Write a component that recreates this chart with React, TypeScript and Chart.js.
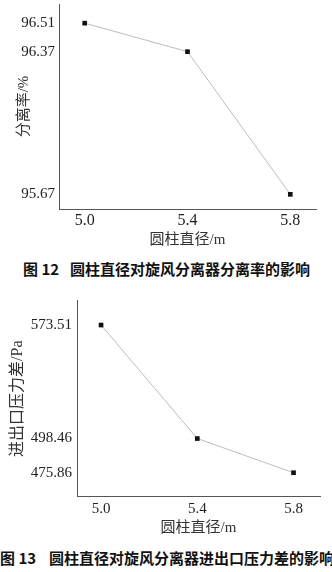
import React, { useEffect, useRef } from "react";
import { Chart, registerables } from "chart.js";

Chart.register(...registerables);

// ---- data ----
const diameters = [5.0, 5.4, 5.8];
const separationRate = [96.51, 96.37, 95.67];
const pressureDiff = [573.51, 498.46, 475.86];
const rateTicks = [96.51, 96.37, 95.67];
const pressureTicks = [573.51, 498.46, 475.86];
const xAxisTitle = "圆柱直径/m";
const rateAxisTitle = "分离率/%";
const pressureAxisTitle = "进出口压力差/Pa";
const caption1Num = "图 12";
const caption1Text = "圆柱直径对旋风分离器分离率的影响";
const caption2Num = "图 13";
const caption2Text = "圆柱直径对旋风分离器进出口压力差的影响";

const SERIF = "'Liberation Serif', 'Times New Roman', 'Noto Sans CJK SC', serif";
const CJK = "'Liberation Serif', 'Noto Sans CJK SC', serif";

type Cfg = {
  values: number[];
  yTicks: number[];
  yMin: number;
  yMax: number;
  xMin: number;
  xMax: number;
  yTitle: string;
  yWidth: number;
  xHeight: number;
  padTop: number;
  padRight: number;
  yTitlePad: number;
  yTickPad: number;
  xTickPad: number;
  xTitlePad: number;
  xTickSize: number;
  yTickSize: number;
  yTitleSize: number;
  xTitleSize: number;
};

function makeConfig(c: Cfg): any {
  return {
    type: "line",
    data: {
      datasets: [
        {
          data: diameters.map((d, i) => ({ x: d, y: c.values[i] })),
          borderColor: "#bdbdbd",
          borderWidth: 1,
          pointStyle: "rect",
          pointRadius: 3.3,
          pointBackgroundColor: "#111",
          pointBorderColor: "#111",
          pointBorderWidth: 0,
          fill: false,
          tension: 0,
          clip: false,
        },
      ],
    },
    options: {
      animation: false,
      responsive: false,
      devicePixelRatio: 1,
      layout: { padding: { top: c.padTop, right: c.padRight, left: 0, bottom: 0 } },
      plugins: { legend: { display: false }, tooltip: { enabled: false } },
      scales: {
        x: {
          type: "linear",
          min: c.xMin,
          max: c.xMax,
          afterBuildTicks: (s: any) => {
            s.ticks = diameters.map((v) => ({ value: v }));
          },
          afterFit: (s: any) => {
            s.height = c.xHeight;
            s.paddingLeft = 0;
            s.paddingRight = 0;
          },
          grid: { display: false, drawTicks: false },
          border: { display: true, color: "#555", width: 1 },
          ticks: {
            padding: c.xTickPad,
            color: "#222",
            font: { family: SERIF, size: c.xTickSize },
            maxRotation: 0,
            callback: (v: any) => Number(v).toFixed(1),
          },
          title: {
            display: true,
            text: xAxisTitle,
            color: "#333",
            font: { family: CJK, size: c.xTitleSize },
            padding: { top: 0, bottom: c.xTitlePad },
          },
        },
        y: {
          type: "linear",
          min: c.yMin,
          max: c.yMax,
          afterBuildTicks: (s: any) => {
            s.ticks = c.yTicks.map((v) => ({ value: v }));
          },
          afterFit: (s: any) => {
            s.width = c.yWidth;
            s.paddingTop = 0;
            s.paddingBottom = 0;
          },
          grid: { display: false, drawTicks: false },
          border: { display: true, color: "#555", width: 1 },
          ticks: {
            padding: c.yTickPad,
            color: "#222",
            font: { family: SERIF, size: c.yTickSize },
            callback: (v: any) => Number(v).toFixed(2),
          },
          title: {
            display: true,
            text: c.yTitle,
            color: "#333",
            font: { family: CJK, size: c.yTitleSize },
            padding: { top: c.yTitlePad, bottom: 0 },
          },
        },
      },
    },
  };
}

export default function App() {
  const ref1 = useRef<HTMLCanvasElement>(null);
  const ref2 = useRef<HTMLCanvasElement>(null);

  useEffect(() => {
    const c1 = new Chart(
      ref1.current!,
      makeConfig({
        values: separationRate,
        yTicks: rateTicks,
        yMin: 95.598,
        yMax: 96.604,
        xMin: 4.9,
        xMax: 5.9,
        yTitle: rateAxisTitle,
        yWidth: 59,
        xHeight: 46,
        padTop: 0,
        padRight: 16,
        yTitlePad: 15,
        yTickPad: 4,
        xTickPad: 2,
        xTitlePad: 6,
        xTickSize: 16,
        yTickSize: 15,
        yTitleSize: 15,
        xTitleSize: 15,
      })
    );
    const c2 = new Chart(
      ref2.current!,
      makeConfig({
        values: pressureDiff,
        yTicks: pressureTicks,
        yMin: 460,
        yMax: 589.6,
        xMin: 4.9,
        xMax: 5.91,
        yTitle: pressureAxisTitle,
        yWidth: 77,
        xHeight: 43.3,
        padTop: 20.7,
        padRight: 12,
        yTitlePad: 8,
        yTickPad: 5,
        xTickPad: 3,
        xTitlePad: 3,
        xTickSize: 15,
        yTickSize: 15,
        yTitleSize: 16,
        xTitleSize: 15,
      })
    );
    return () => {
      c1.destroy();
      c2.destroy();
    };
  }, []);

  const capStyle: React.CSSProperties = {
    position: "absolute",
    fontFamily: "'Noto Sans CJK SC', sans-serif",
    fontWeight: 700,
    fontSize: 15,
    lineHeight: "18px",
    color: "#111",
    whiteSpace: "nowrap",
  };

  return (
    <div
      style={{
        position: "absolute",
        left: 0,
        top: 0,
        width: 332,
        height: 572,
        background: "#fff",
        overflow: "hidden",
      }}
    >
      <canvas
        ref={ref1}
        width={332}
        height={255}
        style={{ position: "absolute", left: 0, top: 0, width: 332, height: 255 }}
      />
      <div style={{ ...capStyle, left: 23, top: 260 }}>{caption1Num}</div>
      <div style={{ ...capStyle, left: 70, top: 260 }}>{caption1Text}</div>
      <canvas
        ref={ref2}
        width={332}
        height={260}
        style={{ position: "absolute", left: 0, top: 280, width: 332, height: 260 }}
      />
      <div style={{ ...capStyle, left: 0, top: 549 }}>{caption2Num}</div>
      <div style={{ ...capStyle, left: 49, top: 549 }}>{caption2Text}</div>
    </div>
  );
}
